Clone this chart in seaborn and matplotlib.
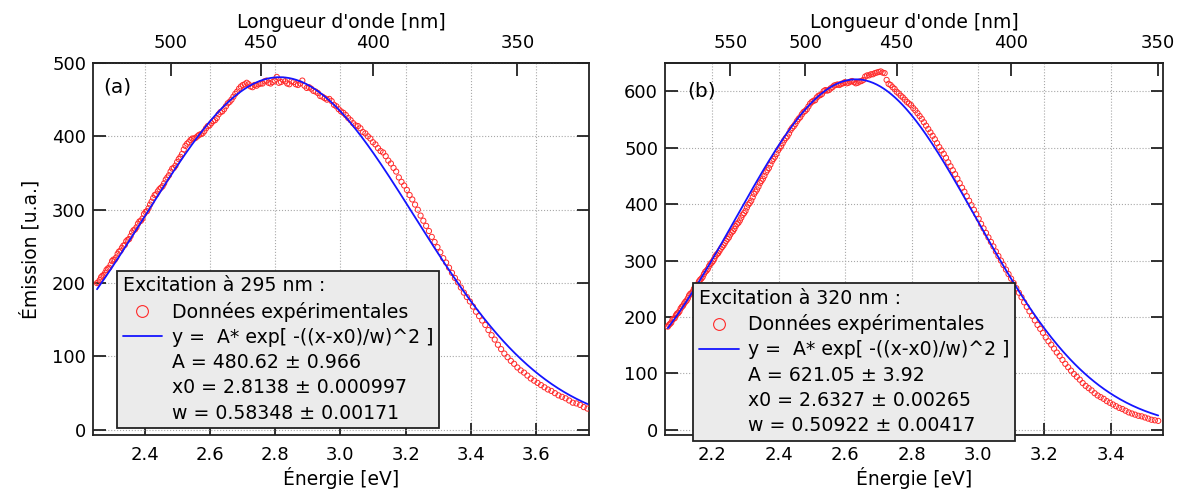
import numpy as np
import matplotlib
matplotlib.use("Agg")
import matplotlib.pyplot as plt
from matplotlib.lines import Line2D
import seaborn as sns

HC = 1239.84  # eV * nm

# panel (a): excitation 295 nm, one point per nm from 550 down to 330
wavelength_a = list(range(550, 329, -1))
emission_a = [200, 201, 204, 208, 210, 211, 214, 218, 220, 221,
              225, 230, 232, 232, 235, 240, 243, 244, 248, 251,
              252, 257, 259, 260, 264, 269, 272, 273, 276, 281,
              284, 285, 288, 294, 297, 298, 302, 307, 311, 316,
              320, 321, 325, 328, 330, 332, 336, 341, 344, 347,
              352, 356, 357, 360, 365, 369, 372, 376, 382, 387,
              390, 392, 395, 397, 397, 398, 400, 402, 403, 404,
              407, 411, 414, 415, 418, 421, 422, 425, 430, 433,
              434, 437, 441, 445, 447, 450, 454, 458, 461, 465,
              468, 470, 471, 473, 471, 468, 467, 470, 469, 471,
              472, 472, 475, 476, 473, 472, 474, 476, 481, 473,
              474, 477, 475, 472, 471, 475, 474, 471, 470, 472,
              476, 469, 466, 467, 465, 462, 461, 459, 455, 454,
              452, 450, 451, 448, 443, 441, 437, 434, 432, 429,
              425, 422, 418, 415, 414, 411, 406, 404, 400, 397,
              392, 389, 384, 380, 378, 373, 367, 363, 357, 352,
              344, 338, 333, 327, 320, 314, 307, 300, 292, 285,
              278, 271, 263, 256, 249, 242, 234, 228, 221, 214,
              207, 201, 194, 187, 181, 175, 168, 161, 155, 149,
              143, 136, 129, 123, 116, 110, 104, 99, 94, 90,
              85, 81, 78, 74, 70, 67, 64, 61, 58, 55,
              53, 50, 47, 45, 43, 40, 37, 36, 34, 31,
              29]
fit_a = (480.62, 2.8138, 0.58348)
legend_a = ["Excitation à 295 nm :", "Données expérimentales",
            "y =  A* exp[ -((x-x0)/w)^2 ]", "A = 480.62 ± 0.966",
            "x0 = 2.8138 ± 0.000997", "w = 0.58348 ± 0.00171"]
ev_ticks_a = [2.4, 2.6, 2.8, 3.0, 3.2, 3.4, 3.6]
nm_ticks_a = [500, 450, 400, 350]
y_ticks_a = [0, 100, 200, 300, 400, 500]

# panel (b): excitation 320 nm, one point per nm from 600 down to 350
wavelength_b = list(range(600, 349, -1))
emission_b = [183, 186, 188, 190, 195, 197, 198, 203, 206, 207,
              210, 215, 218, 220, 224, 227, 229, 233, 238, 241,
              242, 245, 250, 253, 254, 258, 263, 266, 268, 271,
              276, 280, 282, 285, 290, 294, 296, 299, 303, 308,
              311, 313, 317, 321, 324, 327, 331, 335, 338, 341,
              346, 350, 352, 356, 361, 365, 367, 371, 376, 381,
              384, 388, 394, 399, 402, 406, 412, 418, 422, 426,
              431, 437, 441, 445, 450, 456, 460, 464, 470, 476,
              480, 484, 489, 495, 499, 503, 508, 513, 517, 520,
              525, 531, 535, 538, 542, 547, 551, 554, 559, 563,
              565, 568, 573, 578, 581, 583, 584, 589, 592, 593,
              595, 600, 602, 601, 602, 605, 607, 610, 611, 612,
              611, 613, 614, 616, 614, 615, 617, 618, 616, 614,
              615, 617, 618, 620, 626, 628, 628, 630, 630, 632,
              633, 634, 635, 633, 632, 620, 613, 611, 607, 604,
              599, 596, 592, 589, 585, 581, 578, 575, 570, 566,
              561, 556, 551, 545, 539, 533, 527, 521, 515, 508,
              501, 495, 489, 482, 474, 467, 460, 453, 445, 437,
              429, 422, 414, 406, 398, 390, 382, 374, 365, 357,
              349, 341, 333, 325, 316, 308, 300, 292, 284, 276,
              268, 260, 251, 243, 235, 226, 218, 210, 202, 194,
              186, 179, 172, 164, 157, 151, 144, 137, 131, 124,
              117, 111, 105, 99, 94, 89, 83, 78, 74, 70,
              65, 61, 58, 55, 51, 48, 45, 42, 39, 37,
              34, 31, 29, 27, 25, 24, 22, 20, 18, 17,
              16]
fit_b = (621.05, 2.6327, 0.50922)
legend_b = ["Excitation à 320 nm :", "Données expérimentales",
            "y =  A* exp[ -((x-x0)/w)^2 ]", "A = 621.05 ± 3.92",
            "x0 = 2.6327 ± 0.00265", "w = 0.50922 ± 0.00417"]
ev_ticks_b = [2.2, 2.4, 2.6, 2.8, 3.0, 3.2, 3.4]
nm_ticks_b = [550, 500, 450, 400, 350]
y_ticks_b = [0, 100, 200, 300, 400, 500, 600]


def ev_nm(x):
    x = np.asarray(x, dtype=float)
    with np.errstate(divide="ignore", invalid="ignore"):
        return HC / x


def draw_panel(ax, wl, em, fit, labels, ev_ticks, nm_ticks, y_ticks,
               xlim, ylim, tag, tag_pos, leg_pos):
    energy = HC / np.array(wl, dtype=float)
    A, x0, w = fit
    e_fine = np.linspace(energy.min(), energy.max(), 400)
    y_fit = A * np.exp(-((e_fine - x0) / w) ** 2)

    ax.grid(True, ls=":", color="#a8a8a8", lw=0.8)
    ax.set_axisbelow(True)
    sns.scatterplot(x=energy, y=em, ax=ax, marker="o", s=14,
                    facecolor="none", edgecolor="#ff2a2a", linewidth=0.7,
                    legend=False, zorder=3)
    sns.lineplot(x=e_fine, y=y_fit, ax=ax, color="#1515ff", lw=1.3,
                 zorder=4)

    ax.set_xlim(*xlim)
    ax.set_ylim(*ylim)
    ax.set_xticks(ev_ticks)
    ax.set_xticklabels([f"{t:.1f}" for t in ev_ticks])
    ax.set_yticks(y_ticks)
    ax.tick_params(direction="in", length=9, width=1.3, labelsize=13,
                   top=False, right=True, colors="#222222",
                   labelcolor="black")
    ax.tick_params(axis="x", pad=8)
    ax.tick_params(axis="y", pad=5)
    for sp in ax.spines.values():
        sp.set_linewidth(1.3)
        sp.set_color("#222222")
    ax.set_xlabel("Énergie [eV]", fontsize=13.5, labelpad=2)

    sec = ax.secondary_xaxis("top", functions=(ev_nm, ev_nm))
    sec.set_xticks(nm_ticks)
    sec.tick_params(direction="in", length=9, width=1.3, labelsize=13,
                    pad=8, colors="#222222", labelcolor="black")
    sec.spines["top"].set_linewidth(1.3)
    sec.set_xlabel("Longueur d'onde [nm]", fontsize=13.5, labelpad=4)

    ax.text(tag_pos[0], tag_pos[1], tag, transform=ax.transAxes,
            fontsize=14.5, va="top", ha="left")

    blank = Line2D([], [], color="none")
    handles = [Line2D([], [], ls="none", marker="o", ms=8.5, mew=0.8,
                      mfc="none", mec="#ff2a2a"),
               Line2D([], [], color="#1515ff", lw=1.3),
               blank, blank, blank]
    leg = ax.legend(handles, labels[1:], title=labels[0],
                    loc="upper left", bbox_to_anchor=leg_pos,
                    bbox_transform=ax.figure.transFigure,
                    fontsize=13.6, title_fontsize=13.6, frameon=True,
                    fancybox=False, edgecolor="#222222",
                    facecolor="#ebebeb", framealpha=1, borderpad=0.3,
                    labelspacing=0.33, handlelength=2.1,
                    handletextpad=0.5, borderaxespad=0,
                    alignment="left")
    leg.get_frame().set_linewidth(1.3)
    leg.set_zorder(10)


sns.set_style("ticks")
plt.rcParams["font.family"] = ["DejaVu Sans"]
plt.rcParams["text.color"] = "black"
plt.rcParams["axes.labelcolor"] = "black"

fig = plt.figure(figsize=(11.85, 4.99), dpi=100)
ax_a = fig.add_axes([0.0785, 0.1283, 0.4186, 0.7455])
ax_b = fig.add_axes([0.5612, 0.1283, 0.4203, 0.7455])

draw_panel(ax_a, wavelength_a, emission_a, fit_a, legend_a, ev_ticks_a,
           nm_ticks_a, y_ticks_a, (2.242, 3.762), (-7, 500), "(a)",
           (0.02, 0.96), (0.0987, 0.4575))
draw_panel(ax_b, wavelength_b, emission_b, fit_b, legend_b, ev_ticks_b,
           nm_ticks_b, y_ticks_b, (2.058, 3.557), (-9, 650), "(b)",
           (0.044, 0.95), (0.5852, 0.4323))

ax_a.set_ylabel("Émission [u.a.]", fontsize=13.5, labelpad=8)
ax_b.set_ylabel("")

fig.savefig("out.png", dpi=100)
